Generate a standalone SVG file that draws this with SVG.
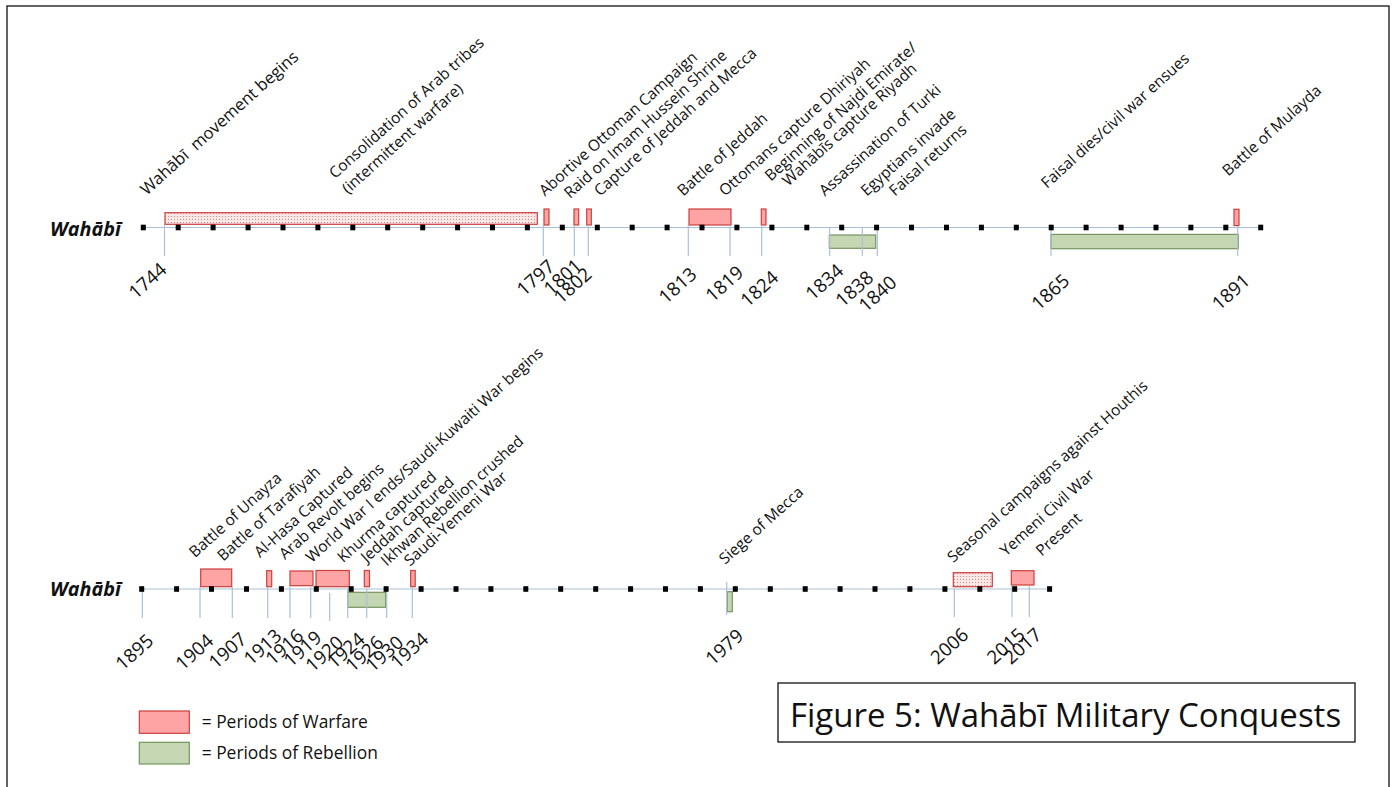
<svg xmlns="http://www.w3.org/2000/svg" xmlns:xlink="http://www.w3.org/1999/xlink" width="1396" height="787" viewBox="0 0 1396 787">
<style>
text{font-family:"Open Sans","Noto Sans","DejaVu Sans",sans-serif;fill:#111}
.lbl{font-size:15.5px}
.yr{font-size:18.8px}
.row{font-size:19.8px;font-weight:bold;font-style:italic}
.leg{font-size:17.4px}
.war{fill:#ffa4a4;stroke:#c9403d;stroke-width:1.2}
.dot{fill:url(#dots);stroke:#c9403d;stroke-width:1.2}
.reb{fill:#c4d7b2;stroke:#76955e;stroke-width:1.2}
.axis{stroke:#a9c0d6;stroke-width:1.2}
.tick{stroke:#a9c0d6;stroke-width:1.2}
</style>
<defs>
<pattern id="dots" width="3" height="3" patternUnits="userSpaceOnUse">
<rect width="3" height="3" fill="#fbe6e6"/>
<rect width="1" height="1" fill="#c98f8f"/>
</pattern>
<rect id="sq" x="-2.5" y="-2.8" width="5" height="5.6" fill="#000"/>
</defs>
<rect x="0" y="0" width="1396" height="787" fill="#fff"/>
<rect id="frame" x="7" y="6" width="1382" height="800" fill="none" stroke="#111" stroke-width="1.3"/>

<!-- TOP TIMELINE -->
<g id="top-row">
<text class="row" x="50" y="236">Wahābī</text>
<g id="connectors-top">
<line class="axis" x1="143" y1="227.5" x2="1263" y2="227.5"/>
</g>
<g id="bars-top">
<rect id="b1744" class="dot" x="165" y="212.7" width="372.3" height="11.6"/>
<rect id="b1797" class="war" x="544" y="209" width="5" height="16"/>
<rect id="b1801" class="war" x="574" y="209" width="4.7" height="16"/>
<rect id="b1802" class="war" x="586.7" y="209" width="4.6" height="16"/>
<rect id="b1813" class="war" x="689" y="209" width="42" height="16"/>
<rect id="b1824" class="war" x="761.3" y="209" width="4.7" height="16"/>
<rect id="b1891" class="war" x="1234" y="209.3" width="5" height="16.3"/>
<rect id="g1834" class="reb" x="829.3" y="235" width="46.4" height="13.3"/>
<rect id="g1865" class="reb" x="1051" y="234.4" width="187.3" height="14.3"/>
</g>
<g id="ticks-top">
<line class="tick" x1="164.5" y1="225" x2="164.5" y2="256"/>
<line class="tick" x1="543.3" y1="225" x2="543.3" y2="256"/>
<line class="tick" x1="574.3" y1="225" x2="574.3" y2="256"/>
<line class="tick" x1="588.3" y1="225" x2="588.3" y2="256"/>
<line class="tick" x1="688.3" y1="225" x2="688.3" y2="256"/>
<line class="tick" x1="730" y1="225" x2="730" y2="256"/>
<line class="tick" x1="761.7" y1="225" x2="761.7" y2="256"/>
<line class="tick" x1="829.7" y1="228" x2="829.7" y2="256"/>
<line class="tick" x1="862.3" y1="228" x2="862.3" y2="256"/>
<line class="tick" x1="877.3" y1="228" x2="877.3" y2="256"/>
<line class="tick" x1="1051" y1="228" x2="1051" y2="256"/>
<line class="tick" x1="1237.7" y1="226" x2="1237.7" y2="256"/>
</g>
<g id="squares-top">
<use xlink:href="#sq" x="143.3" y="227.5"/><use xlink:href="#sq" x="178.2" y="227.5"/><use xlink:href="#sq" x="213.1" y="227.5"/><use xlink:href="#sq" x="248.1" y="227.5"/><use xlink:href="#sq" x="283" y="227.5"/><use xlink:href="#sq" x="317.9" y="227.5"/><use xlink:href="#sq" x="352.8" y="227.5"/><use xlink:href="#sq" x="387.7" y="227.5"/><use xlink:href="#sq" x="422.7" y="227.5"/><use xlink:href="#sq" x="457.6" y="227.5"/><use xlink:href="#sq" x="492.5" y="227.5"/><use xlink:href="#sq" x="527.4" y="227.5"/><use xlink:href="#sq" x="562.3" y="227.5"/><use xlink:href="#sq" x="597.3" y="227.5"/><use xlink:href="#sq" x="632.2" y="227.5"/><use xlink:href="#sq" x="667.1" y="227.5"/><use xlink:href="#sq" x="702" y="227.5"/><use xlink:href="#sq" x="736.9" y="227.5"/><use xlink:href="#sq" x="771.9" y="227.5"/><use xlink:href="#sq" x="806.8" y="227.5"/><use xlink:href="#sq" x="841.7" y="227.5"/><use xlink:href="#sq" x="876.6" y="227.5"/><use xlink:href="#sq" x="911.5" y="227.5"/><use xlink:href="#sq" x="946.5" y="227.5"/><use xlink:href="#sq" x="981.4" y="227.5"/><use xlink:href="#sq" x="1016.3" y="227.5"/><use xlink:href="#sq" x="1051.2" y="227.5"/><use xlink:href="#sq" x="1086.1" y="227.5"/><use xlink:href="#sq" x="1121.1" y="227.5"/><use xlink:href="#sq" x="1156" y="227.5"/><use xlink:href="#sq" x="1190.9" y="227.5"/><use xlink:href="#sq" x="1225.8" y="227.5"/><use xlink:href="#sq" x="1260.7" y="227.5"/>
</g>
<g id="events-top">
<text class="lbl" style="white-space:pre;font-size:16.6px" transform="translate(146.7 196) rotate(-42)">Wahābī  movement begins</text>
<text class="lbl" transform="translate(335 179.3) rotate(-42)">Consolidation of Arab tribes</text>
<text class="lbl" transform="translate(348 194.5) rotate(-42)">(intermittent warfare)</text>
<text class="lbl" transform="translate(545 196.7) rotate(-42)">Abortive Ottoman Campaign</text>
<text class="lbl" transform="translate(570 199) rotate(-42)">Raid on Imam Hussein Shrine</text>
<text class="lbl" transform="translate(600 196.7) rotate(-42)">Capture of Jeddah and Mecca</text>
<text class="lbl" transform="translate(683.3 196.7) rotate(-42)">Battle of Jeddah</text>
<text class="lbl" transform="translate(725 196.7) rotate(-42)">Ottomans capture Dhiriyah</text>
<text class="lbl" transform="translate(770.7 181.7) rotate(-42)">Beginning of Najdi Emirate/</text>
<text class="lbl" transform="translate(788.3 186.7) rotate(-42)">Wahābīs capture Riyadh</text>
<text class="lbl" transform="translate(825 196.7) rotate(-42)">Assassination of Turki</text>
<text class="lbl" transform="translate(866.7 196.7) rotate(-42)">Egyptians invade</text>
<text class="lbl" transform="translate(895 196.7) rotate(-42)">Faisal returns</text>
<text class="lbl" transform="translate(1047 189) rotate(-42)">Faisal dies/civil war ensues</text>
<text class="lbl" transform="translate(1228.3 176.7) rotate(-42)">Battle of Mulayda</text>
</g>
<g id="years-top">
<text class="yr" transform="translate(136 300) rotate(-42)">1744</text>
<text class="yr" transform="translate(524 297) rotate(-42)">1797</text>
<text class="yr" transform="translate(551 296.3) rotate(-42)">1801</text>
<text class="yr" transform="translate(561 304.7) rotate(-42)">1802</text>
<text class="yr" transform="translate(666 304.7) rotate(-42)">1813</text>
<text class="yr" transform="translate(712.7 303) rotate(-42)">1819</text>
<text class="yr" transform="translate(747.7 308) rotate(-42)">1824</text>
<text class="yr" transform="translate(812.7 301.3) rotate(-42)">1834</text>
<text class="yr" transform="translate(842.7 308) rotate(-42)">1838</text>
<text class="yr" transform="translate(866 313) rotate(-42)">1840</text>
<text class="yr" transform="translate(1038.7 311.3) rotate(-42)">1865</text>
<text class="yr" transform="translate(1219.3 311.3) rotate(-42)">1891</text>
</g>
</g>

<!-- BOTTOM TIMELINE -->
<g id="bottom-row">
<text class="row" x="50" y="596">Wahābī</text>
<g id="connectors-bottom">
<line class="axis" x1="142" y1="589" x2="1050" y2="589"/>
</g>
<g id="bars-bottom">
<rect id="b1904" class="war" x="200.7" y="569" width="31" height="17.7"/>
<rect id="b1913" class="war" x="266.7" y="570.7" width="5" height="16"/>
<rect id="b1916" class="war" x="290" y="571" width="23" height="14.7"/>
<rect id="b1920" class="war" x="316" y="570.5" width="33.3" height="16.2"/>
<rect id="b1926" class="war" x="364.3" y="570.5" width="5.2" height="16.2"/>
<rect id="b1934" class="war" x="410.7" y="570.5" width="4.5" height="16.2"/>
<rect id="b2006" class="dot" x="953.3" y="572.7" width="39" height="14"/>
<rect id="b2015" class="war" x="1011.3" y="570.7" width="22.7" height="14.3"/>
<rect id="g1924" class="reb" x="347.7" y="592.3" width="38" height="15"/>
<rect id="g1979" class="reb" x="727.3" y="591.7" width="5" height="20"/>
</g>
<g id="ticks-bottom">
<line class="tick" x1="142.3" y1="589" x2="142.3" y2="618"/>
<line class="tick" x1="200" y1="587" x2="200" y2="618"/>
<line class="tick" x1="232.3" y1="587" x2="232.3" y2="618"/>
<line class="tick" x1="267.7" y1="587" x2="267.7" y2="618"/>
<line class="tick" x1="290" y1="587" x2="290" y2="618"/>
<line class="tick" x1="310.7" y1="587" x2="310.7" y2="618"/>
<line class="tick" x1="329.7" y1="593" x2="329.7" y2="621"/>
<line class="tick" x1="347.7" y1="589" x2="347.7" y2="618"/>
<line class="tick" x1="366.7" y1="589" x2="366.7" y2="618"/>
<line class="tick" x1="386.7" y1="589" x2="386.7" y2="618"/>
<line class="tick" x1="412.3" y1="587" x2="412.3" y2="618"/>
<line class="tick" x1="726.7" y1="582" x2="726.7" y2="615"/>
<line class="tick" x1="954.3" y1="589" x2="954.3" y2="617"/>
<line class="tick" x1="1012" y1="586" x2="1012" y2="617"/>
<line class="tick" x1="1029.3" y1="586" x2="1029.3" y2="617"/>
</g>
<g id="squares-bottom">
<use xlink:href="#sq" x="141.7" y="589"/><use xlink:href="#sq" x="176.6" y="589"/><use xlink:href="#sq" x="211.5" y="589"/><use xlink:href="#sq" x="246.5" y="589"/><use xlink:href="#sq" x="281.4" y="589"/><use xlink:href="#sq" x="316.3" y="589"/><use xlink:href="#sq" x="351.2" y="589"/><use xlink:href="#sq" x="386.1" y="589"/><use xlink:href="#sq" x="421.1" y="589"/><use xlink:href="#sq" x="456" y="589"/><use xlink:href="#sq" x="490.9" y="589"/><use xlink:href="#sq" x="525.8" y="589"/><use xlink:href="#sq" x="560.7" y="589"/><use xlink:href="#sq" x="595.7" y="589"/><use xlink:href="#sq" x="630.6" y="589"/><use xlink:href="#sq" x="665.5" y="589"/><use xlink:href="#sq" x="700.4" y="589"/><use xlink:href="#sq" x="735.3" y="589"/><use xlink:href="#sq" x="770.3" y="589"/><use xlink:href="#sq" x="805.2" y="589"/><use xlink:href="#sq" x="840.1" y="589"/><use xlink:href="#sq" x="875" y="589"/><use xlink:href="#sq" x="909.9" y="589"/><use xlink:href="#sq" x="944.9" y="589"/><use xlink:href="#sq" x="979.8" y="589"/><use xlink:href="#sq" x="1014.7" y="589"/><use xlink:href="#sq" x="1049.6" y="589"/>
</g>
<g id="events-bottom">
<text class="lbl" transform="translate(195 558.3) rotate(-42)">Battle of Unayza</text>
<text class="lbl" transform="translate(223.3 561.7) rotate(-42)">Battle of Tarafiyah</text>
<text class="lbl" transform="translate(260 558.3) rotate(-42)">Al-Hasa Captured</text>
<text class="lbl" transform="translate(285 560) rotate(-42)">Arab Revolt begins</text>
<text class="lbl" transform="translate(311.7 563.3) rotate(-42)">World War I ends/Saudi-Kuwaiti War begins</text>
<text class="lbl" transform="translate(343.3 563.3) rotate(-42)">Khurma captured</text>
<text class="lbl" transform="translate(366.7 563.3) rotate(-42)">Jeddah captured</text>
<text class="lbl" transform="translate(386.7 566.7) rotate(-42)">Ikhwan Rebellion crushed</text>
<text class="lbl" transform="translate(410 566.7) rotate(-42)">Saudi-Yemeni War</text>
<text class="lbl" transform="translate(725 565) rotate(-42)">Siege of Mecca</text>
<text class="lbl" transform="translate(953.3 563.3) rotate(-42)">Seasonal campaigns against Houthis</text>
<text class="lbl" transform="translate(1006 556.7) rotate(-42)">Yemeni Civil War</text>
<text class="lbl" transform="translate(1041.7 556.7) rotate(-42)">Present</text>
</g>
<g id="years-bottom">
<text class="yr" transform="translate(122.7 671.3) rotate(-42)">1895</text>
<text class="yr" transform="translate(182.7 671.3) rotate(-42)">1904</text>
<text class="yr" transform="translate(216 669.7) rotate(-42)">1907</text>
<text class="yr" transform="translate(251 666.3) rotate(-42)">1913</text>
<text class="yr" transform="translate(272.7 666.3) rotate(-42)">1916</text>
<text class="yr" transform="translate(291 668) rotate(-42)">1919</text>
<text class="yr" transform="translate(312.7 673) rotate(-42)">1920</text>
<text class="yr" transform="translate(334.3 669.7) rotate(-42)">1924</text>
<text class="yr" transform="translate(352.7 673) rotate(-42)">1926</text>
<text class="yr" transform="translate(372.7 673) rotate(-42)">1930</text>
<text class="yr" transform="translate(397.7 669.7) rotate(-42)">1934</text>
<text class="yr" transform="translate(712.7 666.3) rotate(-42)">1979</text>
<text class="yr" transform="translate(937.7 665.3) rotate(-42)">2006</text>
<text class="yr" transform="translate(994.3 665.3) rotate(-42)">2015</text>
<text class="yr" transform="translate(1011 665.3) rotate(-42)">2017</text>
</g>
</g>

<g id="legend">
<rect class="war" x="139.3" y="711" width="50" height="22.3"/>
<text class="leg" x="201.7" y="728.3">= Periods of Warfare</text>
<rect class="reb" x="139.3" y="742.3" width="50" height="21.7"/>
<text class="leg" x="201.7" y="759">= Periods of Rebellion</text>
</g>

<g id="title">
<rect x="778" y="683" width="577" height="59" fill="#fff" stroke="#111" stroke-width="1.3"/>
<text x="790" y="727" style="font-size:33px">Figure 5: Wahābī Military Conquests</text>
</g>
</svg>
